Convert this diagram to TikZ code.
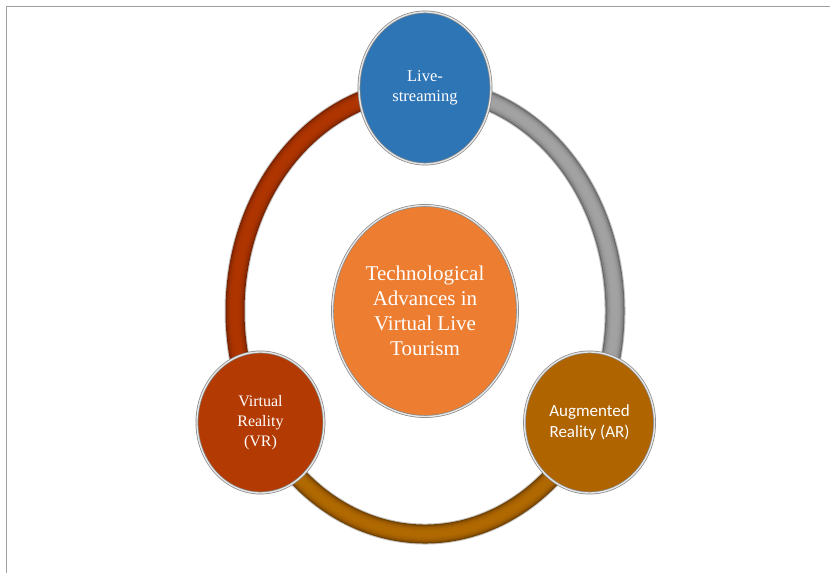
\documentclass[tikz,border=0pt]{standalone}
\usepackage{fontspec}
\setmainfont{Liberation Serif}
\newfontfamily\calibrifont{Carlito}
\usetikzlibrary{shapes.geometric,backgrounds}

\definecolor{liveblue}{HTML}{2E75B6}
\definecolor{techorange}{HTML}{ED7D31}
\definecolor{vrred}{HTML}{B33A02}
\definecolor{arbrown}{HTML}{AF6400}
\definecolor{ringred}{HTML}{AE3500}
\definecolor{ringreddark}{HTML}{7A2200}
\definecolor{ringbrown}{HTML}{B06800}
\definecolor{ringbrowndark}{HTML}{704000}
\definecolor{ringgray}{HTML}{A2A2A2}
\definecolor{ringgraydark}{HTML}{6A6A6A}

\begin{document}
\begin{tikzpicture}[x=1pt,y=1pt,
		bubble/.style={ellipse, inner sep=0pt, align=center, text=white, fill=#1,
			draw=gray!95, double=gray!20, double distance=1.4pt, line width=0.7pt},
		tube/.style 2 args={draw=gray!45, line width=21pt,
			postaction={draw=#1, line width=19pt},
			postaction={draw=#2!45!#1, line width=16.5pt},
			postaction={draw=#2!75!#1, line width=13.5pt},
			postaction={draw=#2!92!#1, line width=10pt},
			postaction={draw=#2, line width=6pt}}]
		\useasboundingbox (0,0) rectangle (830,573);
		% frame of the slide
		\draw[gray!75, line width=1.3pt] (830,566.5) -- (6.5,566.5) -- (6.5,0);
		% middle topic
		\node[bubble=techorange, minimum width=185pt, minimum height=211pt,
			font=\fontsize{21}{25}\selectfont] (tech) at (425,262)
			{Technological\\Advances in\\Virtual Live\\Tourism};
		% outer topics on the ring
		\node[bubble=liveblue, minimum width=132pt, minimum height=152pt,
			font=\fontsize{16.5}{20}\selectfont] (live)
			at ([shift={(90:190pt and 223pt)}]tech.center) {Live-\\streaming};
		\node[bubble=vrred, minimum width=127pt, minimum height=141pt,
			font=\fontsize{16}{20}\selectfont] (vr)
			at ([shift={(210:190pt and 223pt)}]tech.center) {Virtual\\Reality\\(VR)};
		\node[bubble=arbrown, minimum width=130pt, minimum height=141pt,
			font=\calibrifont\fontsize{17}{21}\selectfont] (ar)
			at ([shift={(330:190pt and 223pt)}]tech.center) {Augmented\\Reality (AR)};
		% ring between the outer topics
		\begin{scope}[on background layer]
			\draw[tube={ringreddark}{ringred}] (live.center)
				arc[start angle=90, end angle=210, x radius=190pt, y radius=223pt];
			\draw[tube={ringbrowndark}{ringbrown}] (vr.center)
				arc[start angle=210, end angle=330, x radius=190pt, y radius=223pt];
			\draw[tube={ringgraydark}{ringgray}] (ar.center)
				arc[start angle=330, end angle=450, x radius=190pt, y radius=223pt];
		\end{scope}
	\end{tikzpicture}
\end{document}
